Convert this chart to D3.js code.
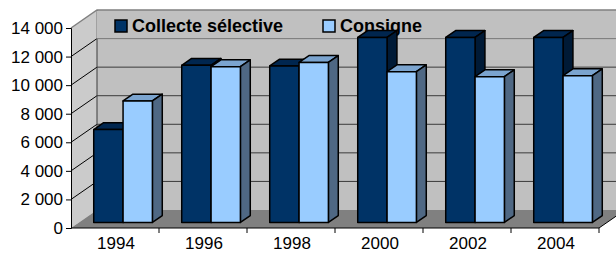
<!DOCTYPE html>
<html>
<head>
<meta charset="utf-8">
<script src="https://cdn.jsdelivr.net/npm/d3@7"></script>
<style>
  body { margin: 0; background: #fff; }
  svg { display: block; font-family: "Liberation Sans", Arial, sans-serif; }
</style>
</head>
<body>
<div id="chart"></div>
<script>
// data
var years = ["1994", "1996", "1998", "2000", "2002", "2004"];
var series = ["Collecte sélective", "Consigne"];
var collecte = [6500, 11000, 10950, 12950, 12950, 12950];
var consigne = [8500, 10900, 11200, 10550, 10200, 10270];
var yTicks = [0, 2000, 4000, 6000, 8000, 10000, 12000, 14000];

var W = 616, H = 253;
var plotLeft = 71, plotRight = 599, plotBottom = 228, plotTop = 28;
var depthX = 26, depthY = -18;      // offset of the back wall
var f0 = 0.31, f1 = 0.69;           // depth of the bars (front, back)

var faces = {
    "Collecte sélective": { front: "#003366", top: "#00264f", side: "#001a36" },
    "Consigne": { front: "#99ccff", top: "#7ba4cf", side: "#4f6884" }
};

var x = d3.scaleBand().domain(years).range([plotLeft, plotRight]).paddingInner(0).paddingOuter(0);
var xs = d3.scaleBand().domain(series).range([0, x.bandwidth()]).paddingInner(0).paddingOuter(0.5);
var y = d3.scaleLinear().domain([0, 14000]).range([plotBottom, plotTop]);

var fmt = d3.formatLocale({ decimal: ",", thousands: " ", grouping: [3], currency: ["", ""] }).format(",d");

var svg = d3.select("#chart").append("svg")
    .attr("width", W)
    .attr("height", H);

function pt(px, py, f) {
    return [px + f * depthX, py + f * depthY];
}
function poly(pts) {
    return pts.map(function(p) { return p[0] + "," + p[1]; }).join(" ");
}

// walls and floor
var bx = plotLeft + depthX;
var wallTop = y(14000) + depthY;
svg.append("rect")
    .attr("x", bx).attr("y", wallTop)
    .attr("width", W - bx + 20).attr("height", plotBottom - y(14000))
    .attr("fill", "#c0c0c0");
svg.append("polygon")
    .attr("points", poly([[plotLeft, y(14000)], pt(plotLeft, y(14000), 1), pt(plotLeft, plotBottom, 1), [plotLeft, plotBottom]]))
    .attr("fill", "#cbcbcb");
svg.append("polygon")
    .attr("points", poly([[plotLeft, plotBottom], [plotRight, plotBottom], pt(plotRight, plotBottom, 1), pt(plotLeft, plotBottom, 1)]))
    .attr("fill", "#808080");

// gridlines
yTicks.filter(function(d) { return d > 0 && d < 14000; }).forEach(function(d) {
    svg.append("line")
        .attr("x1", bx).attr("x2", W + 20)
        .attr("y1", y(d) + depthY).attr("y2", y(d) + depthY)
        .attr("stroke", "#3a3a3a").attr("stroke-width", 1);
    svg.append("line")
        .attr("x1", plotLeft).attr("y1", y(d))
        .attr("x2", bx).attr("y2", y(d) + depthY)
        .attr("stroke", "#000").attr("stroke-width", 1);
});
svg.append("line")
    .attr("x1", bx).attr("x2", bx)
    .attr("y1", wallTop).attr("y2", plotBottom + depthY)
    .attr("stroke", "#3a3a3a");

// top edge of the walls
svg.append("polyline")
    .attr("points", poly([[plotLeft, y(14000)], pt(plotLeft, y(14000), 1), [W + 20, wallTop]]))
    .attr("fill", "none").attr("stroke", "#808080").attr("stroke-width", 1.5);

// legend (sits behind the bars)
var legend = svg.append("g");
legend.append("rect")
    .attr("x", bx - 0.5).attr("y", wallTop + 1)
    .attr("width", W - bx + 1).attr("height", 27.5)
    .attr("fill", "#c0c0c0");
var legendX = [115, 323];
series.forEach(function(s, i) {
    legend.append("rect")
        .attr("x", legendX[i]).attr("y", 20)
        .attr("width", 12).attr("height", 12)
        .attr("fill", faces[s].front)
        .attr("stroke", "#000").attr("stroke-width", 1.5);
    legend.append("text")
        .attr("x", legendX[i] + 17).attr("y", 32)
        .attr("font-size", 18).attr("font-weight", "bold")
        .attr("fill", "#000")
        .text(s);
});

// bars
var rows = [];
years.forEach(function(yr, i) {
    rows.push({ year: yr, s: series[0], v: collecte[i] });
    rows.push({ year: yr, s: series[1], v: consigne[i] });
});

var bars = svg.append("g").selectAll("g.bar")
    .data(rows).enter().append("g")
    .attr("class", "bar")
    .attr("stroke", "#000").attr("stroke-width", 1.5).attr("stroke-linejoin", "round");

bars.append("polygon")
    .attr("fill", function(d) { return faces[d.s].top; })
    .attr("points", function(d) {
        var x0 = x(d.year) + xs(d.s), x1 = x0 + xs.bandwidth(), yt = y(d.v);
        return poly([pt(x0, yt, f0), pt(x1, yt, f0), pt(x1, yt, f1), pt(x0, yt, f1)]);
    });
bars.append("polygon")
    .attr("fill", function(d) { return faces[d.s].side; })
    .attr("points", function(d) {
        var x1 = x(d.year) + xs(d.s) + xs.bandwidth(), yt = y(d.v);
        return poly([pt(x1, yt, f0), pt(x1, yt, f1), pt(x1, y(0), f1), pt(x1, y(0), f0)]);
    });
bars.append("polygon")
    .attr("fill", function(d) { return faces[d.s].front; })
    .attr("points", function(d) {
        var x0 = x(d.year) + xs(d.s), x1 = x0 + xs.bandwidth(), yt = y(d.v);
        return poly([pt(x0, yt, f0), pt(x1, yt, f0), pt(x1, y(0), f0), pt(x0, y(0), f0)]);
    });

// axes
var yAxis = d3.axisLeft(y).tickValues(yTicks).tickFormat(fmt).tickSize(5).tickPadding(3);
var gy = svg.append("g")
    .attr("transform", "translate(" + plotLeft + ",0)")
    .call(yAxis);
gy.select(".domain").attr("stroke", "#000");
gy.selectAll(".tick text").attr("font-size", 17).attr("fill", "#000")
    .attr("font-family", "Liberation Sans, Arial, sans-serif");

svg.append("line")
    .attr("x1", plotLeft).attr("x2", plotRight)
    .attr("y1", plotBottom).attr("y2", plotBottom)
    .attr("stroke", "#000");
svg.append("line")
    .attr("x1", plotRight).attr("y1", plotBottom)
    .attr("x2", plotRight + depthX).attr("y2", plotBottom + depthY)
    .attr("stroke", "#000");

var boundaries = years.map(function(d) { return x(d) + x.bandwidth(); });
svg.selectAll("line.xtick")
    .data(boundaries).enter().append("line")
    .attr("class", "xtick")
    .attr("x1", function(d) { return d; }).attr("x2", function(d) { return d; })
    .attr("y1", plotBottom).attr("y2", plotBottom + 5)
    .attr("stroke", "#000");

// labels sit at the very bottom, kept inside the frame
svg.selectAll("text.xlabel")
    .data(years).enter().append("text")
    .attr("class", "xlabel")
    .attr("x", function(d) { return x(d) + x.bandwidth() / 2 + 1; })
    .attr("y", 249)
    .attr("text-anchor", "middle")
    .attr("font-size", 17)
    .attr("fill", "#000")
    .text(function(d) { return d; });
</script>
</body>
</html>
